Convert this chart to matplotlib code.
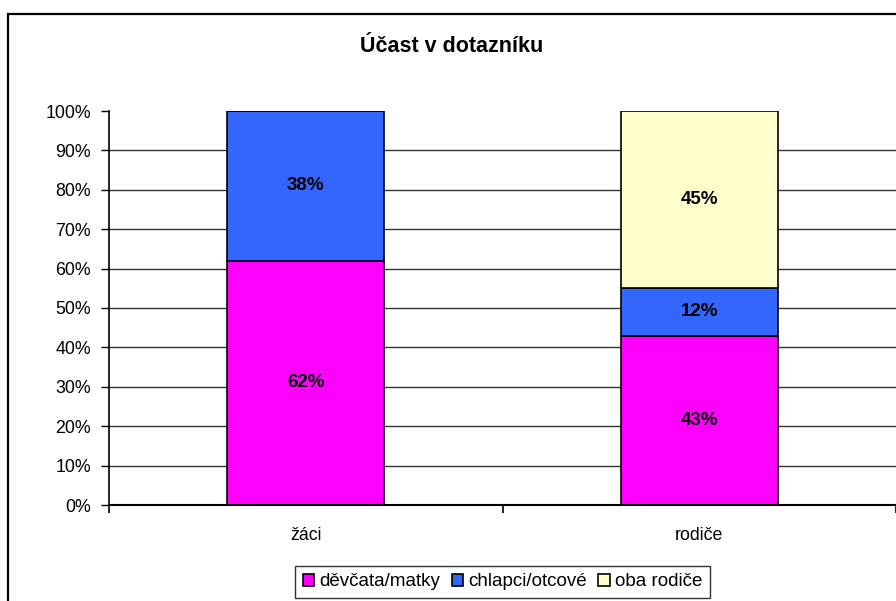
import matplotlib
matplotlib.use("Agg")
import matplotlib.pyplot as plt
import matplotlib.patches as patches
import numpy as np

plt.rcParams['font.family'] = ['Liberation Sans', 'DejaVu Sans']

categories = ['žáci', 'rodiče']
series_names = ['děvčata/matky', 'chlapci/otcové', 'oba rodiče']
series_values = [
    [62, 43],   # děvčata/matky
    [38, 12],   # chlapci/otcové
    [0, 45],    # oba rodiče
]
colors = ['#FF00FF', '#3366FF', '#FFFFCC']
y_ticks = [0, 10, 20, 30, 40, 50, 60, 70, 80, 90, 100]

W, H = 896, 601
fig = plt.figure(figsize=(W / 100, H / 100), dpi=100)
ax = fig.add_axes([109 / W, 96 / H, (W - 109) / W, 394 / H])

x = np.arange(len(categories))
bottom = np.zeros(len(categories))
handles = []
for name, vals, col in zip(series_names, series_values, colors):
    vals = np.array(vals, dtype=float)
    bars = ax.bar(x, vals, 0.4, bottom=bottom, color=col, edgecolor='black',
                  linewidth=1.2, zorder=3, label=name)
    handles.append(bars)
    for xi, v, b in zip(x, vals, bottom):
        if v > 0:
            ax.text(xi, b + v / 2, f'{v:.0f}%', ha='center', va='center',
                    fontsize=13.5, fontweight='bold', zorder=4)
    bottom += vals

ax.set_xlim(-0.5, 1.5)
ax.set_ylim(0, 100)

# grid lines (no line at 100%)
for t in y_ticks[1:-1]:
    ax.axhline(t, color='#333333', linewidth=1.0, zorder=1)

ax.set_yticks(y_ticks)
ax.set_yticklabels([f'{t}%' for t in y_ticks])
ax.tick_params(axis='y', length=6, width=1, pad=7, labelsize=12.8, direction='out')

ax.set_xticks([-0.5, 0.5, 1.5])
ax.set_xticklabels(['', '', ''])
ax.set_xticks(x, minor=True)
ax.set_xticklabels(categories, minor=True)
ax.tick_params(axis='x', which='major', length=6, width=1.2, direction='out')
ax.tick_params(axis='x', which='minor', length=0, pad=16, labelsize=12.8)

for s in ['top', 'right']:
    ax.spines[s].set_visible(False)
ax.spines['left'].set_linewidth(1.2)
ax.spines['bottom'].set_linewidth(1.5)
ax.spines['bottom'].set_zorder(5)

fig.text(452 / W, 1 - 47 / H, 'Účast v dotazníku', ha='center', va='center',
         fontsize=15.5, fontweight='bold')

leg = fig.legend(handles=handles, labels=series_names, loc='upper center',
                 bbox_to_anchor=(502.5 / W, 1 - 566 / H), ncol=3, frameon=True,
                 fancybox=False, edgecolor='black', fontsize=13.5,
                 handlelength=0.6, handleheight=0.6, handletextpad=0.3,
                 columnspacing=0.6, borderpad=0.4, borderaxespad=0)
leg.get_frame().set_linewidth(1.0)

# outer chart border (cut off on right and bottom)
border = patches.Rectangle((7.5 / W, -0.1), 1.2, 1.1 - 13.5 / H,
                           transform=fig.transFigure, fill=False,
                           edgecolor='black', linewidth=1.6)
fig.add_artist(border)

fig.savefig('out.png', dpi=100)
